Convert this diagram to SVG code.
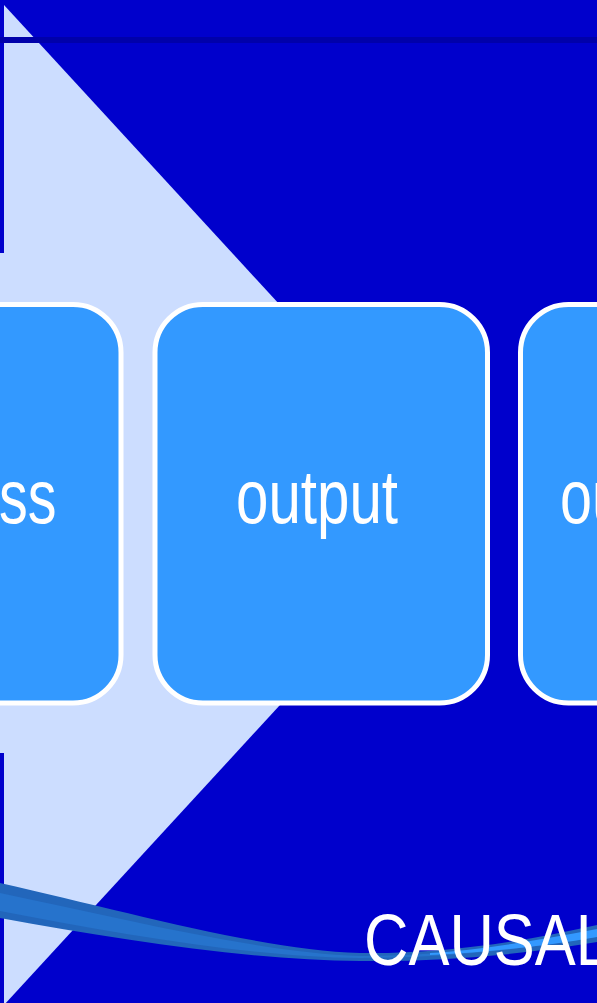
<svg xmlns="http://www.w3.org/2000/svg" width="597" height="1003" viewBox="0 0 597 1003">
  <style>
    .box { fill: #3399FF; stroke: #FFFFFF; stroke-width: 5; }
    .lbl { font-family: "Liberation Sans", Arial, sans-serif; fill: #FFFFFF; font-size: 76px; }
  </style>
  <rect id="background" x="0" y="0" width="597" height="1003" fill="#0000CC"/>
  <g id="chevron">
    <polygon points="4,5 464,505 4,1005" fill="#CCDDFF"/>
    <rect x="0" y="253" width="4" height="500" fill="#CCDDFF"/>
  </g>
  <rect id="top-rule" x="0" y="37" width="597" height="6" fill="#0000AA"/>
  <g id="node-process">
    <rect class="box" x="-211.5" y="304.5" width="332.5" height="398.5" rx="48" ry="48"/>
    <text class="lbl" x="-1" y="523" textLength="57.5" lengthAdjust="spacingAndGlyphs">ss</text>
  </g>
  <g id="node-output">
    <rect class="box" x="155" y="304.5" width="332.5" height="398.5" rx="48" ry="48"/>
    <text class="lbl" x="236" y="523" textLength="162" lengthAdjust="spacingAndGlyphs">output</text>
  </g>
  <g id="node-outcome">
    <rect class="box" x="520.5" y="304.5" width="332.5" height="398.5" rx="48" ry="48"/>
    <text class="lbl" x="560" y="523" textLength="64" lengthAdjust="spacingAndGlyphs">ou</text>
  </g>
  <g id="connectors"></g>
  <g id="swoosh">
    <path d="M0,883 C120,910 260,950 360,953 C450,954 530,940 597,925 L597,942 C520,955 440,962 360,961 C250,960 120,940 0,918 Z" fill="#2266BB"/>
    <path d="M0,893 C120,918 260,953 360,956 C450,956 530,944 597,930 L597,937 C520,950 440,958 360,958 C250,957 120,934 0,911 Z" fill="#2673CC"/>
    <path d="M430,953 C480,950 540,940 597,929 L597,937 C540,947 480,953 430,955 Z" fill="#3399FF"/>
  </g>
  <g id="title">
    <text x="364" y="965" font-family="'Liberation Sans', Arial, sans-serif" font-size="73" fill="#FFFFFF" textLength="246" lengthAdjust="spacingAndGlyphs">CAUSAL</text>
  </g>
</svg>
